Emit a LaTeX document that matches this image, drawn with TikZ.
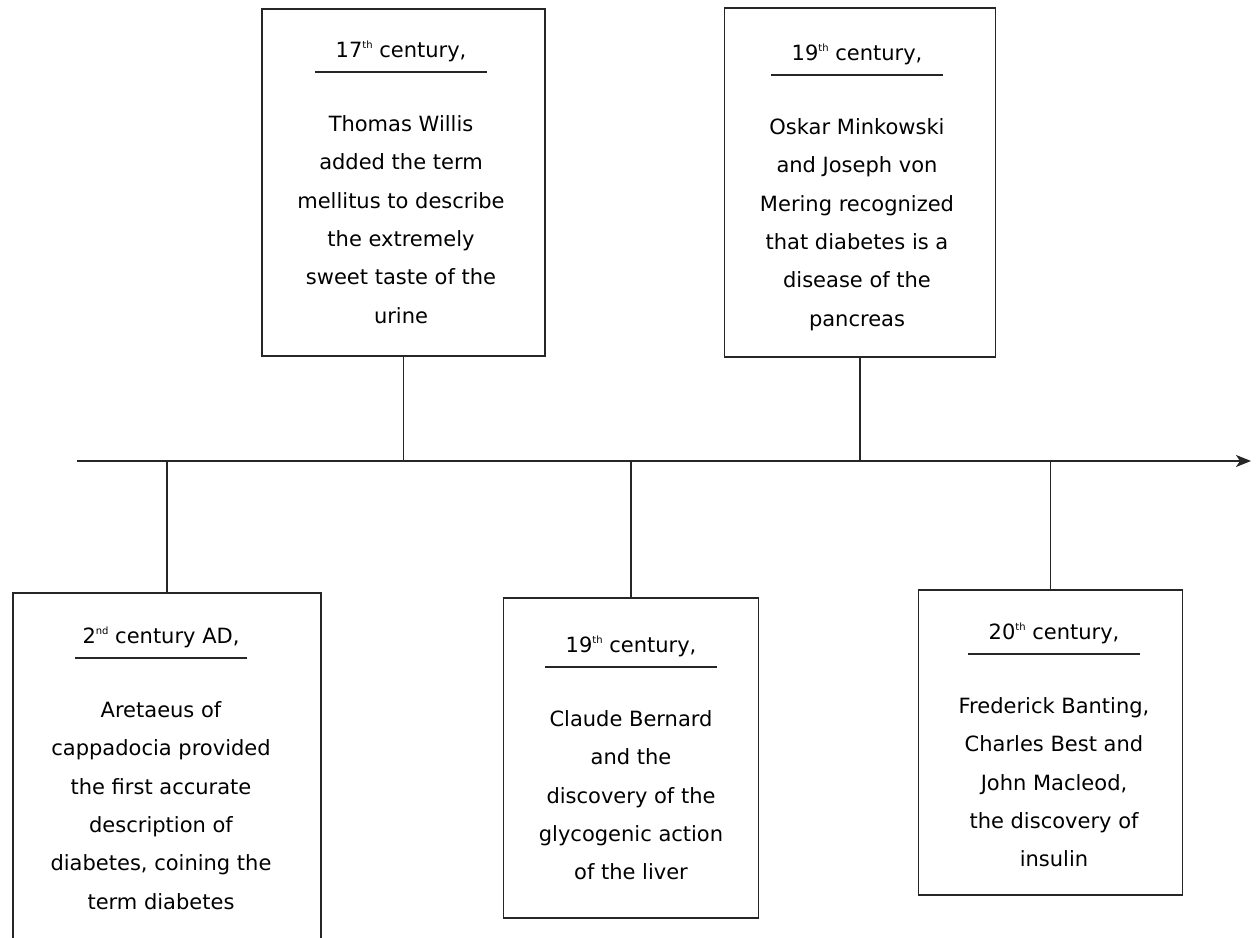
\documentclass[tikz,border=0pt]{standalone}
\usepackage{fontspec}
\setmainfont{DejaVu Sans}
\usetikzlibrary{positioning,arrows.meta}

\newcommand{\ordsup}[1]{\raisebox{0.8ex}{\fontsize{10}{10}\selectfont #1}}

\begin{document}
\begin{tikzpicture}[
    x=1pt, y=1pt,
    card/.style={draw=black!85, line width=1.8pt, rectangle, inner sep=0pt},
    era/.style={font=\fontsize{21}{38.4}\selectfont, minimum width=172pt, inner sep=0pt, text depth=14pt, anchor=base},
    note/.style={font=\fontsize{21}{38.4}\selectfont, align=center, inner sep=0pt},
    rule/.style={line width=1.6pt, black!85},
    link/.style={line width=1.8pt, black!85},
]
\useasboundingbox (0,0) rectangle (1258,937);

% Boxes (pixel grid, y measured from the bottom)
\node[card, minimum width=283pt, minimum height=347pt] (willis) at (403.5, 754.5) {};
\node[card, minimum width=271pt, minimum height=349pt] (minkowski) at (860, 754.5) {};
\node[card, minimum width=308pt, minimum height=357pt] (aretaeus) at (167, 165.5) {};
\node[card, minimum width=255pt, minimum height=320pt] (bernard) at (631, 179) {};
\node[card, minimum width=264pt, minimum height=305pt] (banting) at (1050.5, 194.5) {};

% Dates, underlined
\node[era] (willisT) at (401, 879) {17\ordsup{th} century,};
\node[era] (minkowskiT) at (857, 876) {19\ordsup{th} century,};
\node[era] (aretaeusT) at (161, 293) {2\ordsup{nd} century AD,};
\node[era] (bernardT) at (631, 284) {19\ordsup{th} century,};
\node[era] (bantingT) at (1054, 297) {20\ordsup{th} century,};
\foreach \t in {willisT,minkowskiT,aretaeusT,bernardT,bantingT}
    \draw[rule] (\t.south west) -- (\t.south east);

% Descriptions
\node[note, below=43pt of willisT] (willisD) {Thomas Willis\\added the term\\mellitus to describe\\the extremely\\sweet taste of the\\urine};
\node[note, below=43pt of minkowskiT] (minkowskiD) {Oskar Minkowski\\and Joseph von\\Mering recognized\\that diabetes is a\\disease of the\\pancreas};
\node[note, below=43pt of aretaeusT] (aretaeusD) {Aretaeus of\\cappadocia provided\\the first accurate\\description of\\diabetes, coining the\\term diabetes};
\node[note, below=43pt of bernardT] (bernardD) {Claude Bernard\\and the\\discovery of the\\glycogenic action\\of the liver};
\node[note, below=43pt of bantingT] (bantingD) {Frederick Banting,\\Charles Best and\\John Macleod,\\the discovery of\\insulin};

% Time axis
\coordinate (axL) at (77, 476);
\coordinate (axR) at (1251, 476);
\draw[link, -{Stealth[length=15pt, width=12pt, inset=4pt]}] (axL) -- (axR);

% Ticks to the boxes
\foreach \b in {willis,minkowski}
    \draw[link] (\b.south) -- (\b.south |- axL);
\foreach \b in {aretaeus,bernard,banting}
    \draw[link] (\b.north) -- (\b.north |- axL);
\end{tikzpicture}
\end{document}
